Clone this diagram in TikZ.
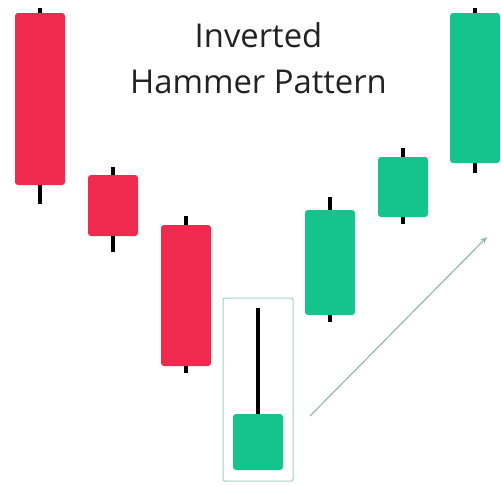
\documentclass[tikz,border=0pt]{standalone}
\usepackage{fontspec}
\setmainfont{Open Sans}
\usepackage{xcolor}
\usetikzlibrary{arrows.meta}
\definecolor{bear}{HTML}{F02A4E}
\definecolor{bull}{HTML}{14C48C}
\definecolor{frameline}{HTML}{A3CCCB}
\definecolor{titlegray}{HTML}{222222}

\begin{document}
\begin{tikzpicture}[x=1pt,y=-1pt,
		wick/.style={line width=4pt, black},
		body/.style={rounded corners=3pt, minimum width=50pt, inner sep=0pt}]
			\useasboundingbox (0,0) rectangle (501,485);
			\node[align=center, anchor=base, text=titlegray, font=\fontsize{32.8}{46}\selectfont] (title) at (258.5,93) {Inverted\\Hammer Pattern};
			% name / x / wick top / body top / body bottom / wick bottom / colour
			\foreach \n/\x/\wt/\bt/\bb/\wb/\c in {c1/40/8/13/185/204/bear, c2/113/167/175/236/252/bear, c3/186/216/225/366/373/bear, c4/258/308/414/470/470/bull, c5/330/197/210/315/322/bull, c6/403/148/157/217/224/bull, c7/475/8/13/163/173/bull}
			{
				\draw[wick] (\x,\wt) -- (\x,\wb);
				\node[body, fill=\c, minimum height={(\bb-\bt)*1pt}] (\n) at (\x,{(\bt+\bb)/2}) {};
			}
			\node[draw=frameline, line width=1pt, rounded corners=2pt, minimum width=70pt, minimum height=183pt] (hammerbox) at (258,389.5) {};
			\coordinate (trendstart) at (310,416);
			\coordinate (trendend) at (487,237);
			\draw[frameline!90!black, line width=1.2pt, -{Stealth[length=7pt,width=6pt]}] (trendstart) -- (trendend);
		\end{tikzpicture}
\end{document}
